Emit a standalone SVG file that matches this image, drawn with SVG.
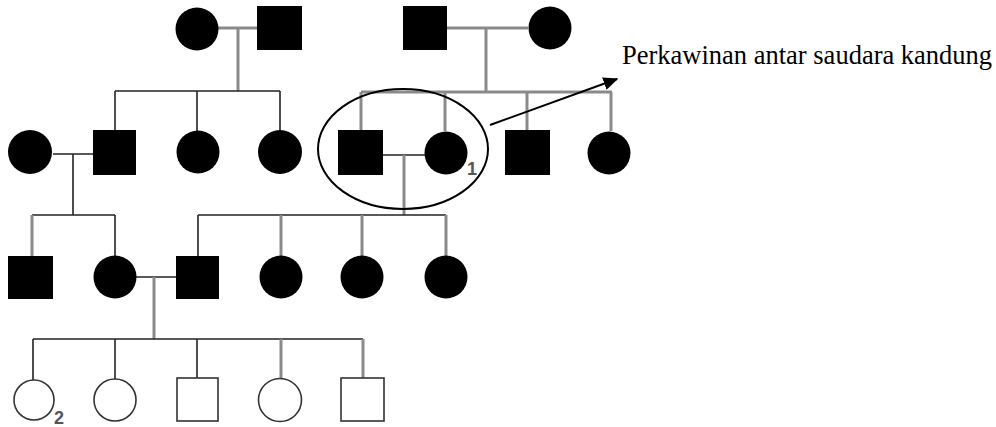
<svg xmlns="http://www.w3.org/2000/svg" width="996" height="427" viewBox="0 0 996 427">
<style>
.f{fill:#000;stroke:none}
.o{fill:#fff;stroke:#333;stroke-width:1.6}
.g{stroke:#8a8a8a;stroke-width:3;fill:none}
.k{stroke:#222;stroke-width:1.6;fill:none}
.lbl{font-family:"Liberation Sans",Arial,sans-serif;font-size:18px;font-weight:bold;fill:#555}
.txt{font-family:"Liberation Serif","Times New Roman",serif;font-size:26.5px;fill:#000}
</style>
<defs>
<marker id="ah" viewBox="0 0 10 10" refX="9" refY="5" markerWidth="15" markerHeight="13" markerUnits="userSpaceOnUse" orient="auto" preserveAspectRatio="none">
<path d="M0,0 L10,5 L0,10 z" fill="#000"/>
</marker>
</defs>
<rect width="996" height="427" fill="#fff"/>
<g id="connectors">
<line class="g" x1="218" y1="28" x2="257" y2="28"/>
<line class="g" x1="238" y1="28" x2="238" y2="91"/>
<line class="k" x1="115" y1="91" x2="280" y2="91"/>
<line class="k" x1="115" y1="91" x2="115" y2="130"/>
<line class="k" x1="197" y1="91" x2="197" y2="131"/>
<line class="k" x1="280" y1="91" x2="280" y2="131"/>
<line class="g" x1="446" y1="28" x2="528" y2="28"/>
<line class="g" x1="486" y1="28" x2="486" y2="92"/>
<line class="g" x1="361" y1="92" x2="612" y2="92"/>
<line class="g" x1="361" y1="92" x2="361" y2="130"/>
<line class="g" x1="445" y1="92" x2="445" y2="131"/>
<line class="g" x1="527" y1="92" x2="527" y2="130"/>
<line class="g" x1="611" y1="92" x2="611" y2="131"/>
<line class="k" x1="53" y1="154" x2="93" y2="154"/>
<line class="k" x1="73" y1="154" x2="73" y2="215"/>
<line class="k" x1="383" y1="155" x2="425" y2="155"/>
<line class="g" x1="404" y1="155" x2="404" y2="215"/>
<line class="k" x1="32" y1="215" x2="115" y2="215"/>
<line class="g" x1="32" y1="215" x2="32" y2="256"/>
<line class="k" x1="115" y1="215" x2="115" y2="256"/>
<line class="k" x1="198" y1="215" x2="446" y2="215"/>
<line class="k" x1="198" y1="215" x2="198" y2="256"/>
<line class="g" x1="281" y1="215" x2="281" y2="256"/>
<line class="g" x1="362" y1="215" x2="362" y2="256"/>
<line class="g" x1="446" y1="215" x2="446" y2="256"/>
<line class="k" x1="136" y1="277" x2="176" y2="277"/>
<line class="g" x1="154" y1="277" x2="154" y2="339"/>
<line class="k" x1="33" y1="339" x2="363" y2="339"/>
<line class="k" x1="33" y1="339" x2="33" y2="380" stroke-width="2.5"/>
<line class="k" x1="115" y1="339" x2="115" y2="380"/>
<line class="k" x1="197" y1="339" x2="197" y2="378"/>
<line class="g" x1="281" y1="339" x2="281" y2="380"/>
<line class="g" x1="363" y1="339" x2="363" y2="378"/>
<line stroke="#000" stroke-width="2" x1="490" y1="125" x2="617" y2="79" marker-end="url(#ah)"/>
</g>
<g id="g1-f1"><circle class="f" cx="197" cy="29" r="21.5"/></g>
<g id="g1-m1"><rect class="f" x="257" y="6" width="45" height="44"/></g>
<g id="g1-m2"><rect class="f" x="403" y="6" width="44" height="44"/></g>
<g id="g1-f2"><circle class="f" cx="550" cy="28" r="21.5"/></g>
<g id="g2-f0"><circle class="f" cx="30" cy="152" r="22"/></g>
<g id="g2-m1"><rect class="f" x="93" y="130" width="43" height="45"/></g>
<g id="g2-f1"><circle class="f" cx="198" cy="152" r="21.5"/></g>
<g id="g2-f2"><circle class="f" cx="280" cy="152" r="22"/></g>
<g id="g2-m2"><rect class="f" x="338" y="130" width="45" height="45"/></g>
<g id="g2-f3"><circle class="f" cx="446" cy="153" r="21.5"/><text class="lbl" x="467" y="175">1</text></g>
<g id="g2-m3"><rect class="f" x="505" y="130" width="45" height="45"/></g>
<g id="g2-f4"><circle class="f" cx="609" cy="153" r="21.5"/></g>
<g id="marriage-circle"><ellipse cx="403" cy="149" rx="85" ry="60" fill="none" stroke="#000" stroke-width="2"/></g>
<g id="g3-m1"><rect class="f" x="8" y="256" width="45" height="43"/></g>
<g id="g3-f1"><circle class="f" cx="115" cy="277" r="21.5"/></g>
<g id="g3-m2"><rect class="f" x="176" y="256" width="43" height="43"/></g>
<g id="g3-f2"><circle class="f" cx="281" cy="277" r="21.5"/></g>
<g id="g3-f3"><circle class="f" cx="362" cy="277" r="21.5"/></g>
<g id="g3-f4"><circle class="f" cx="446" cy="277" r="21.5"/></g>
<g id="g4-f1"><circle class="o" cx="34" cy="400" r="20"/><text class="lbl" x="54" y="424">2</text></g>
<g id="g4-f2"><circle class="o" cx="115" cy="400" r="21"/></g>
<g id="g4-m1"><rect class="o" x="177" y="378" width="41" height="43"/></g>
<g id="g4-f3"><circle class="o" cx="280" cy="400" r="21.5"/></g>
<g id="g4-m2"><rect class="o" x="341" y="378" width="43" height="43"/></g>
<g id="label"><text class="txt" x="622" y="64">Perkawinan antar saudara kandung</text></g>
</svg>
